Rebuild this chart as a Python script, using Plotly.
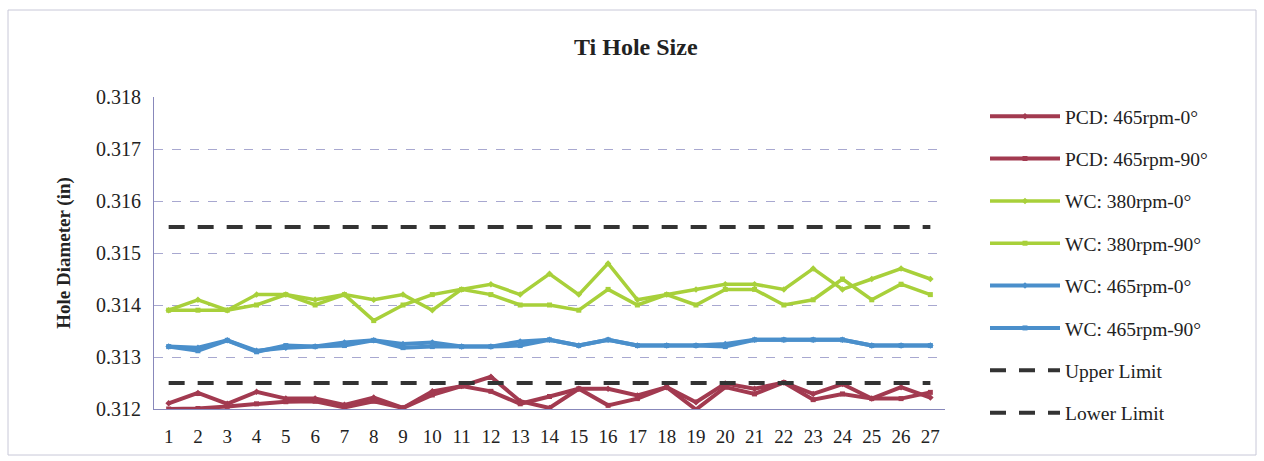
import plotly.graph_objects as go

# Sample hole numbers along the x axis
samples = [str(i) for i in range(1, 28)]

# Measured hole diameters (in)
pcd_465_0 = [0.31211, 0.31231, 0.31210, 0.31233, 0.31220, 0.31220, 0.31208, 0.31222, 0.31202,
             0.31234, 0.31244, 0.31262, 0.31215, 0.31202, 0.31239, 0.31239, 0.31226, 0.31242,
             0.31213, 0.31249, 0.31239, 0.31251, 0.31229, 0.31248, 0.31220, 0.31242, 0.31222]
pcd_465_90 = [0.31200, 0.31201, 0.31205, 0.31210, 0.31214, 0.31215, 0.31203, 0.31215, 0.31202,
              0.31227, 0.31244, 0.31234, 0.31210, 0.31224, 0.31239, 0.31207, 0.31220, 0.31242,
              0.31199, 0.31242, 0.31229, 0.31251, 0.31218, 0.31229, 0.31220, 0.31220, 0.31232]
wc_380_0 = [0.3139, 0.3141, 0.3139, 0.3142, 0.3142, 0.3141, 0.3142, 0.3141, 0.3142,
            0.3139, 0.3143, 0.3144, 0.3142, 0.3146, 0.3142, 0.3148, 0.3141, 0.3142,
            0.3143, 0.3144, 0.3144, 0.3143, 0.3147, 0.3143, 0.3145, 0.3147, 0.3145]
wc_380_90 = [0.3139, 0.3139, 0.3139, 0.3140, 0.3142, 0.3140, 0.3142, 0.3137, 0.3140,
             0.3142, 0.3143, 0.3142, 0.3140, 0.3140, 0.3139, 0.3143, 0.3140, 0.3142,
             0.3140, 0.3143, 0.3143, 0.3140, 0.3141, 0.3145, 0.3141, 0.3144, 0.3142]
wc_465_0 = [0.31320, 0.31318, 0.31332, 0.31312, 0.31318, 0.31320, 0.31328, 0.31332, 0.31325,
            0.31328, 0.31320, 0.31320, 0.31330, 0.31333, 0.31322, 0.31333, 0.31322, 0.31322,
            0.31322, 0.31325, 0.31333, 0.31333, 0.31333, 0.31333, 0.31322, 0.31322, 0.31322]
wc_465_90 = [0.31320, 0.31312, 0.31332, 0.31310, 0.31322, 0.31320, 0.31322, 0.31332, 0.31318,
             0.31320, 0.31320, 0.31320, 0.31322, 0.31333, 0.31322, 0.31333, 0.31322, 0.31322,
             0.31322, 0.31320, 0.31333, 0.31333, 0.31333, 0.31333, 0.31322, 0.31322, 0.31322]

# Tolerance band
UPPER_LIMIT = 0.3155
LOWER_LIMIT = 0.3125

y_ticks = [0.312, 0.313, 0.314, 0.315, 0.316, 0.317, 0.318]
y_tick_labels = ["0.312", "0.313", "0.314", "0.315", "0.316", "0.317", "0.318"]

RED = "#A23A50"
GREEN = "#A8D03A"
BLUE = "#4A8FCB"
BLACK = "#333333"
TEXT = "#222222"
FONT = "Liberation Serif"

series = [
    ("PCD: 465rpm-0°", pcd_465_0, RED, 4, "diamond"),
    ("PCD: 465rpm-90°", pcd_465_90, RED, 4, "square"),
    ("WC: 380rpm-0°", wc_380_0, GREEN, 3.5, "diamond"),
    ("WC: 380rpm-90°", wc_380_90, GREEN, 3.5, "square"),
    ("WC: 465rpm-0°", wc_465_0, BLUE, 4, "diamond"),
    ("WC: 465rpm-90°", wc_465_90, BLUE, 4, "square"),
]

fig = go.Figure()
for i, (name, vals, color, width, symbol) in enumerate(series):
    fig.add_trace(go.Scatter(
        x=samples, y=vals, name=name, mode="lines+markers",
        line=dict(color=color, width=width),
        marker=dict(color=color, size=5, symbol=symbol),
        legendgroup=f"g{i}",
    ))

for j, (name, val) in enumerate([("Upper Limit", UPPER_LIMIT), ("Lower Limit", LOWER_LIMIT)]):
    fig.add_trace(go.Scatter(
        x=samples, y=[val] * len(samples), name=name, mode="lines",
        line=dict(color=BLACK, width=4, dash="16px,13px"),
        legendgroup=f"lim{j}",
    ))

W, H = 1264, 461
ML, MR, MT, MB = 154, 319, 97, 52
pw, ph = W - ML - MR, H - MT - MB

def px_to_paper_x(px):
    return (px - ML) / pw

def px_to_paper_y(py):
    return (H - MB - py) / ph

fig.update_layout(
    width=W, height=H,
    margin=dict(l=ML, r=MR, t=MT, b=MB),
    paper_bgcolor="white", plot_bgcolor="white",
    font=dict(family=FONT, size=19, color=TEXT),
    title=dict(text="<b>Ti Hole Size</b>", x=0.503, xref="container", xanchor="center",
               y=1 - 47 / H, yanchor="middle", font=dict(family=FONT, size=24, color=TEXT)),
    showlegend=True,
    legend=dict(x=px_to_paper_x(985), y=px_to_paper_y(97), xanchor="left", yanchor="top",
                font=dict(family=FONT, size=19.5, color=TEXT), maxheight=440,
                itemwidth=70, tracegroupgap=14, bgcolor="rgba(0,0,0,0)"),
    xaxis=dict(type="category", range=[-0.5, 26.5], showgrid=False,
               showline=True, linecolor="#8888bb", linewidth=1, ticks="",
               ticklabelstandoff=10,
               tickfont=dict(family=FONT, size=19, color=TEXT)),
    yaxis=dict(range=[0.312, 0.318], tickvals=y_ticks, ticktext=y_tick_labels,
               showgrid=True, gridcolor="#a8a8d0", griddash="dash", gridwidth=1,
               showline=True, linecolor="#8888bb", linewidth=1, zeroline=False,
               ticks="", ticklabelstandoff=8,
               title=dict(text="<b>Hole Diameter (in)</b>", standoff=20,
                          font=dict(family=FONT, size=19, color=TEXT)),
               tickfont=dict(family=FONT, size=20, color=TEXT)),
    shapes=[dict(type="rect", xref="paper", yref="paper",
                 x0=px_to_paper_x(8), x1=px_to_paper_x(1256),
                 y0=px_to_paper_y(455), y1=px_to_paper_y(10),
                 line=dict(color="#c8c8d8", width=1), fillcolor="rgba(0,0,0,0)", layer="below")],
)

fig.write_html("out.html")
